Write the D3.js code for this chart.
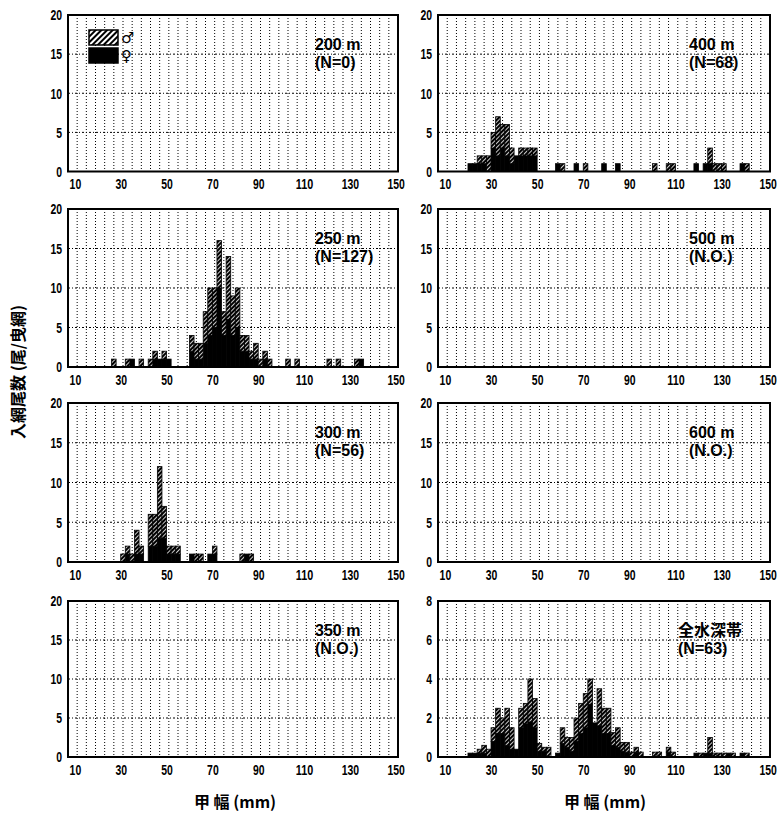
<!DOCTYPE html>
<html><head><meta charset="utf-8">
<script src="https://cdnjs.cloudflare.com/ajax/libs/d3/7.8.5/d3.min.js"></script>
<style>body{margin:0;background:#fff}svg{display:block}</style>
</head><body>
<svg id="c" width="779" height="815"></svg>
<script>
// ---------- data ----------
const sizeTicks = [10, 30, 50, 70, 90, 110, 130, 150];
const countTicks = [0, 5, 10, 15, 20];
const countTicksAll = [0, 2, 4, 6, 8];
const panelTitles = ["200 m", "400 m", "250 m", "500 m", "300 m", "600 m", "350 m", "全水深帯"];
const panelNotes = ["(N=0)", "(N=68)", "(N=127)", "(N.O.)", "(N=56)", "(N.O.)", "(N.O.)", "(N=63)"];
const legendLabels = ["♂", "♀"];
const yTitle = "入網尾数 (尾/曳網)";
const xTitle = "甲 幅 (mm)";

// bins = lower edge of 2-mm carapace-width class
const bins200 = [];
const male200 = [];
const female200 = [];

const bins400 = [20, 22, 24, 26, 28, 30, 32, 34, 36, 38, 40, 42, 44, 46, 48, 58, 60, 66, 70, 78, 84, 100, 106, 108, 118, 122, 124, 126, 128, 130, 138, 140];
const male400 = [0, 0, 1, 1, 2, 2, 5, 3, 4, 2, 0, 1, 1, 1, 1, 0, 1, 0, 1, 0, 0, 1, 1, 1, 0, 0, 2, 1, 1, 1, 0, 1];
const female400 = [1, 1, 1, 1, 0, 3, 2, 3, 2, 1, 2, 2, 2, 2, 2, 1, 0, 1, 0, 1, 1, 0, 0, 0, 1, 1, 1, 0, 0, 0, 1, 0];

const bins250 = [26, 32, 34, 38, 42, 44, 46, 48, 50, 60, 62, 64, 66, 68, 70, 72, 74, 76, 78, 80, 82, 84, 86, 88, 90, 92, 94, 102, 106, 120, 124, 132, 134];
const male250 = [1, 1, 0, 1, 1, 1, 0, 1, 0, 2, 2, 2, 4, 6, 5, 6, 3, 8, 5, 5, 2, 2, 1, 2, 1, 1, 1, 1, 1, 1, 1, 1, 0];
const female250 = [0, 0, 1, 0, 0, 1, 1, 1, 1, 2, 1, 1, 3, 4, 5, 10, 4, 6, 4, 5, 2, 2, 1, 1, 0, 1, 0, 0, 0, 0, 0, 0, 1];

const bins500 = [];
const male500 = [];
const female500 = [];

const bins300 = [30, 32, 34, 36, 38, 42, 44, 46, 48, 50, 52, 54, 60, 62, 64, 68, 70, 82, 84, 86];
const male300 = [1, 1, 1, 3, 1, 4, 4, 9, 4, 1, 1, 1, 0, 1, 1, 0, 1, 1, 0, 1];
const female300 = [0, 1, 0, 1, 1, 2, 2, 3, 3, 1, 1, 1, 1, 0, 0, 1, 1, 0, 1, 0];

const bins600 = [];
const male600 = [];
const female600 = [];

const bins350 = [];
const male350 = [];
const female350 = [];

const binsAll = [20, 22, 24, 26, 28, 30, 32, 34, 36, 38, 40, 42, 44, 46, 48, 50, 52, 54, 58, 60, 62, 64, 66, 68, 70, 72, 74, 76, 78, 80, 82, 84, 86, 88, 90, 92, 94, 100, 102, 106, 108, 118, 120, 122, 124, 126, 128, 130, 132, 134, 138, 140];
const maleAll = [0, 0, 0.2, 0.4, 0.4, 0.7, 1.3, 0.8, 1.9, 1.1, 0, 1.0, 1.05, 2.2, 1.5, 0.4, 0.2, 0.5, 0, 0.8, 0.5, 0.7, 1.2, 1.55, 1.75, 1.3, 0, 1.9, 1.3, 1.3, 0.65, 1.0, 0.45, 0.5, 0.25, 0.25, 0.25, 0.25, 0.25, 0.25, 0.25, 0, 0.2, 0, 0.8, 0.2, 0.2, 0.2, 0, 0.2, 0, 0.2];
const femaleAll = [0.2, 0.2, 0.2, 0.2, 0, 0.8, 1.2, 1.2, 0.6, 0.4, 0.4, 1.5, 1.7, 1.8, 1.5, 0.3, 0.3, 0, 0.2, 0.7, 0.5, 0.3, 0.8, 1.2, 1.5, 2.7, 1.75, 1.6, 1.2, 1.2, 0.6, 0.5, 0.3, 0.25, 0, 0.25, 0, 0, 0, 0.25, 0, 0.2, 0, 0.2, 0.2, 0, 0, 0, 0.2, 0, 0.2, 0];

// ---------- layout ----------
const panelData = [
  [bins200, male200, female200], [bins400, male400, female400],
  [bins250, male250, female250], [bins500, male500, female500],
  [bins300, male300, female300], [bins600, male600, female600],
  [bins350, male350, female350], [binsAll, maleAll, femaleAll]
];
const colX = [[68, 398], [438, 770]];
const rowY = [[15, 171.5], [209, 367], [403, 562], [601, 757]];

const svg = d3.select("#c");
const defs = svg.append("defs");
function makePattern(id, size, w) {
  const p = defs.append("pattern").attr("id", id)
    .attr("patternUnits", "userSpaceOnUse").attr("width", size).attr("height", size)
    .attr("patternTransform", "rotate(45)");
  p.append("rect").attr("width", size).attr("height", size).attr("fill", "#fff");
  p.append("line").attr("x1", w / 2).attr("x2", w / 2).attr("y1", 0).attr("y2", size)
    .attr("stroke", "#000").attr("stroke-width", w);
}
makePattern("hatch", 3, 2.2);
makePattern("hatchLegend", 4, 2);

const FONT = "'Liberation Sans', Arial, sans-serif";
const TICKFONT = "'Liberation Sans Narrow', 'Arial Narrow', 'Liberation Sans', sans-serif";
const CJK = "'Noto Sans CJK JP', sans-serif";

panelData.forEach((pd, i) => {
  const col = i % 2, row = Math.floor(i / 2);
  const [x0, x1] = colX[col], [y0, y1] = rowY[row];
  const isAll = i === 7;
  const yt = isAll ? countTicksAll : countTicks;
  const x = d3.scaleLinear().domain([7, 151]).range([x0, x1]);
  const y = d3.scaleLinear().domain([0, yt[yt.length - 1]]).range([y1, y0]);
  const g = svg.append("g");

  // grid
  g.append("g").selectAll("line").data(d3.range(11, 151, 4)).join("line")
    .attr("x1", d => x(d)).attr("x2", d => x(d)).attr("y1", y0).attr("y2", y1)
    .attr("stroke", "#000").attr("stroke-width", 1).attr("stroke-dasharray", "1,2");
  g.append("g").selectAll("line").data(yt.slice(1, -1)).join("line")
    .attr("x1", x0).attr("x2", x1).attr("y1", d => y(d)).attr("y2", d => y(d))
    .attr("stroke", "#000").attr("stroke-width", 1).attr("stroke-dasharray", "2,2,1,2");

  // bars (female black at bottom, male hatched on top)
  const [bins, male, female] = pd;
  const recs = bins.map((b, k) => ({ b, m: male[k], f: female[k] }));
  g.append("g").selectAll("rect").data(recs.filter(r => r.f > 0)).join("rect")
    .attr("x", d => x(d.b)).attr("width", d => x(d.b + 2) - x(d.b))
    .attr("y", d => y(d.f)).attr("height", d => y(0) - y(d.f))
    .attr("fill", "#000").attr("stroke", "#000").attr("stroke-width", 0.8);
  g.append("g").selectAll("rect").data(recs.filter(r => r.m > 0)).join("rect")
    .attr("x", d => x(d.b)).attr("width", d => x(d.b + 2) - x(d.b))
    .attr("y", d => y(d.f + d.m)).attr("height", d => y(d.f) - y(d.f + d.m))
    .attr("fill", "url(#hatch)").attr("stroke", "#000").attr("stroke-width", 0.8);

  // frame
  g.append("rect").attr("x", x0).attr("y", y0).attr("width", x1 - x0).attr("height", y1 - y0)
    .attr("fill", "none").attr("stroke", "#000").attr("stroke-width", 2);

  // axes
  const ax = g.append("g").attr("transform", `translate(0,${y1})`)
    .call(d3.axisBottom(x).tickValues(sizeTicks).tickSize(0).tickPadding(7).tickFormat(d3.format("d")));
  const ay = g.append("g").attr("transform", `translate(${x0},0)`)
    .call(d3.axisLeft(y).tickValues(yt).tickSize(0).tickPadding(6).tickFormat(d3.format("d")));
  [ax, ay].forEach(a => {
    a.select(".domain").remove();
    a.selectAll("text").attr("font-family", TICKFONT).attr("font-weight", "bold")
      .attr("font-size", 15).attr("fill", "#000")
      .attr("textLength", d => String(d).length * 5.8).attr("lengthAdjust", "spacingAndGlyphs");
  });

  // panel label
  const tx = x0 + (col === 0 ? 247 : (isAll ? 240 : 251));
  g.append("text").attr("x", tx).attr("y", y0 + 35)
    .attr("font-family", isAll ? CJK : FONT).attr("font-weight", "bold").attr("font-size", 16)
    .text(panelTitles[i]);
  g.append("text").attr("x", tx).attr("y", y0 + 53)
    .attr("font-family", FONT).attr("font-weight", "bold").attr("font-size", 16)
    .text(panelNotes[i]);

  // legend in first panel
  if (i === 0) {
    const lg = g.append("g");
    lg.append("rect").attr("x", 89).attr("y", 30).attr("width", 29).attr("height", 15)
      .attr("fill", "url(#hatchLegend)").attr("stroke", "#000").attr("stroke-width", 1.5);
    lg.append("rect").attr("x", 89).attr("y", 48).attr("width", 29).attr("height", 15)
      .attr("fill", "#000").attr("stroke", "#000").attr("stroke-width", 1.5);
    lg.append("text").attr("x", 121).attr("y", 43).attr("font-family", "'DejaVu Sans', sans-serif")
      .attr("font-weight", "bold").attr("font-size", 15).text(legendLabels[0]);
    lg.append("text").attr("x", 121).attr("y", 61).attr("font-family", "'DejaVu Sans', sans-serif")
      .attr("font-weight", "bold").attr("font-size", 15).text(legendLabels[1]);
  }
});

// axis titles
svg.append("text").attr("transform", "translate(24,372) rotate(-90)")
  .attr("text-anchor", "middle").attr("font-family", CJK).attr("font-weight", "bold")
  .attr("font-size", 16).text(yTitle);
[235, 605].forEach(cx => {
  svg.append("text").attr("x", cx).attr("y", 808).attr("text-anchor", "middle")
    .attr("font-family", CJK).attr("font-weight", "bold").attr("font-size", 16)
    .attr("xml:space", "preserve").text(xTitle);
});
</script>
</body></html>
